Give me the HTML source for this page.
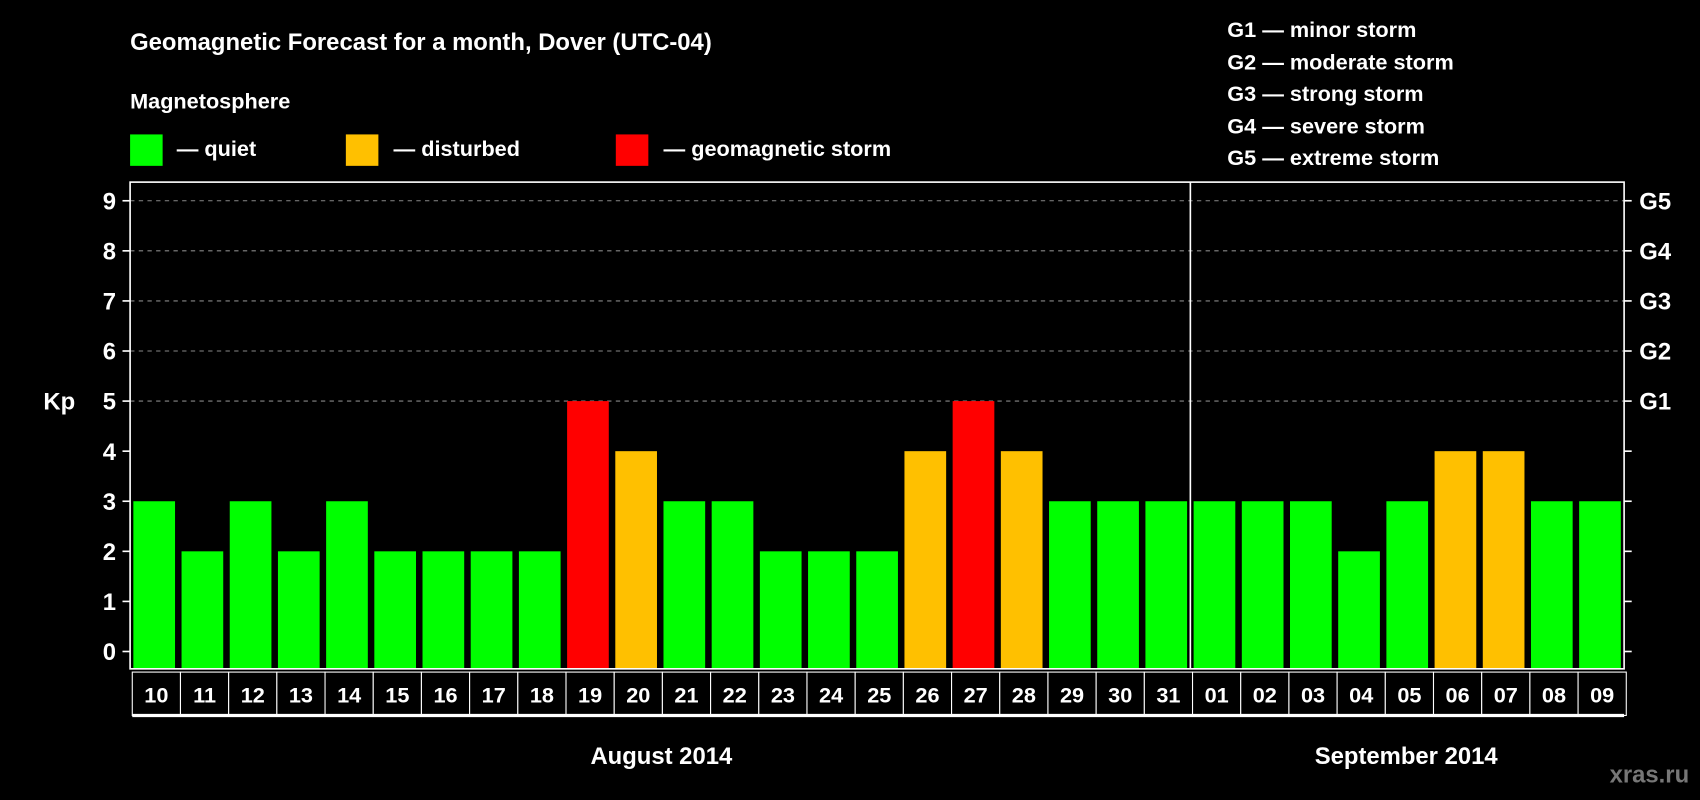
<!DOCTYPE html>
<html><head><meta charset="utf-8"><style>
html,body{margin:0;padding:0;background:#000;overflow:hidden}
svg{display:block;font-family:"Liberation Sans",sans-serif;font-weight:bold}
</style></head><body>
<svg id="chart" width="1700" height="800" viewBox="0 0 1568 738" preserveAspectRatio="none" xmlns="http://www.w3.org/2000/svg">
<rect width="1568" height="738" fill="#000"/>
<text x="120" y="46" fill="#fff" font-size="22">Geomagnetic Forecast for a month, Dover (UTC-04)</text>
<text x="120" y="100" fill="#fff" font-size="20">Magnetosphere</text>
<g><rect x="120" y="124" width="30" height="29" fill="#00ff00"/><text x="163" y="144" fill="#fff" font-size="20">— quiet</text></g>
<g><rect x="319" y="124" width="30" height="29" fill="#ffc000"/><text x="363" y="144" fill="#fff" font-size="20">— disturbed</text></g>
<g><rect x="568" y="124" width="30" height="29" fill="#ff0000"/><text x="612" y="144" fill="#fff" font-size="20">— geomagnetic storm</text></g>
<g fill="#fff" font-size="20">
<text x="1132" y="34">G1 — minor storm</text>
<text x="1132" y="64">G2 — moderate storm</text>
<text x="1132" y="93">G3 — strong storm</text>
<text x="1132" y="123">G4 — severe storm</text>
<text x="1132" y="152">G5 — extreme storm</text>
</g>
<g id="grid"></g>
<g id="bars"></g>
<g id="axes"></g>
<text x="40" y="378" fill="#fff" font-size="22">Kp</text>
<text x="610" y="705" fill="#fff" font-size="22" text-anchor="middle">August 2014</text>
<text x="1297" y="705" fill="#fff" font-size="22" text-anchor="middle">September 2014</text>
<text x="1558" y="722" fill="#777" font-size="22" text-anchor="end">xras.ru</text>
</svg>
<script>
const days = ["10","11","12","13","14","15","16","17","18","19","20","21","22","23","24","25","26","27","28","29","30","31","01","02","03","04","05","06","07","08","09"];
const kpValues = [3,2,3,2,3,2,2,2,2,5,4,3,3,2,2,2,4,5,4,3,3,3,3,3,3,2,3,4,4,3,3];
const yTicks = [0,1,2,3,4,5,6,7,8,9];
const gLabels = ["","","","","","G1","G2","G3","G4","G5"];
const monthSplitIndex = 22;

const NS="http://www.w3.org/2000/svg";
const L=120,R=1498,T=168,B=617,Y0=601,UNIT=46.2;
const slot=(R-L)/days.length;
const xs=i=>L+i*slot;
const ys=v=>Y0-v*UNIT;
function mk(tag,attrs,parent){const e=document.createElementNS(NS,tag);for(const k in attrs)e.setAttribute(k,attrs[k]);document.getElementById(parent).appendChild(e);return e;}
const color=v=>v>=5?"#ff0000":(v>=4?"#ffc000":"#00ff00");

yTicks.forEach((t,i)=>{
  if(t>=5){const g=mk("line",{x1:L,x2:R,y1:ys(t),y2:ys(t),stroke:"#888","stroke-width":1,"stroke-dasharray":"4,4"},"grid");
    
    }
  const tl=mk("line",{x1:L-7,x2:L,y1:ys(t),y2:ys(t),stroke:"#fff","stroke-width":1.5},"axes");
  
  
  const tr=mk("line",{x1:R,x2:R+7,y1:ys(t),y2:ys(t),stroke:"#fff","stroke-width":1.5},"axes");
  
  
  const lb=mk("text",{x:L-13,y:ys(t)+8,fill:"#fff","font-size":22,"text-anchor":"end"},"axes");
  lb.textContent=t;
  
  
  if(gLabels[i]){const gl=mk("text",{x:R+14,y:ys(t)+8,fill:"#fff","font-size":22},"axes");
    gl.textContent=gLabels[i];
    
    }
});

kpValues.forEach((v,i)=>{
  const b=mk("rect",{x:xs(i)+3,y:ys(v),width:slot-6,height:B-ys(v),fill:color(v)},"bars");
  
  
});

const frame=mk("rect",{x:L,y:T,width:R-L,height:B-T,fill:"none",stroke:"#fff","stroke-width":1.5},"axes");


const div=mk("line",{x1:xs(monthSplitIndex),x2:xs(monthSplitIndex),y1:T,y2:B,stroke:"#fff","stroke-width":1.5},"axes");



days.forEach((d,i)=>{
  const c=mk("rect",{x:xs(i)+2,y:620,width:slot,height:40,fill:"#000",stroke:"#fff","stroke-width":1},"axes");
  
  
  const t=mk("text",{x:xs(i)+2+slot/2,y:648,fill:"#fff","font-size":20,"text-anchor":"middle"},"axes");
  t.textContent=d;
  
  
});
const bl=mk("line",{x1:xs(0)+2,x2:R,y1:660,y2:660,stroke:"#fff","stroke-width":3},"axes");


</script>
</body></html>
